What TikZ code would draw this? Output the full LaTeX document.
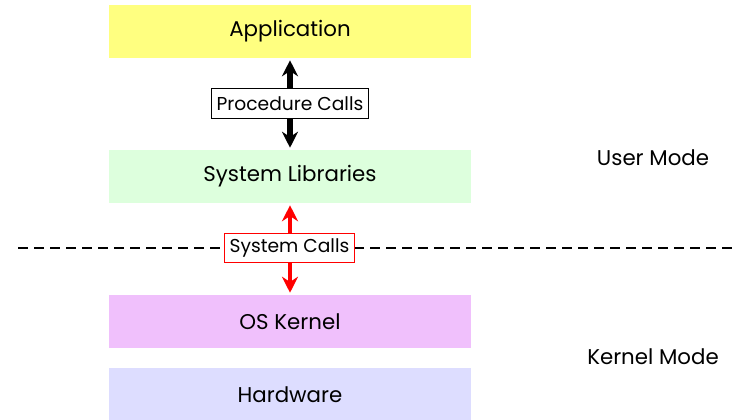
\documentclass[tikz,border=0pt]{standalone}
\usepackage{fontspec}
\setmainfont{Poppins}
\usetikzlibrary{arrows.meta}
\definecolor{appY}{HTML}{FFFF80}
\definecolor{libG}{HTML}{DDFFDD}
\definecolor{kerP}{HTML}{F0C0FC}
\definecolor{hwB}{HTML}{DDDDFF}
\begin{document}
\begin{tikzpicture}[x=0.75pt,y=-0.75pt,
  layer/.style={minimum width=271.5pt,minimum height=39.75pt,inner sep=0pt,font=\fontsize{16}{18}\selectfont},
  lbl/.style={draw,line width=0.8pt,fill=white,inner xsep=4pt,inner ysep=0pt,minimum height=22pt,font=\fontsize{14}{16}\selectfont},
  modetxt/.style={font=\fontsize{16}{18}\selectfont},
  bigarrow/.style={line width=4.2pt,{Stealth[length=12pt,width=12pt]}-{Stealth[length=12pt,width=12pt]}}]
\useasboundingbox (0,0) rectangle (738,419);
\node[layer,fill=appY] (app) at (290,31.5) {Application};
\node[layer,fill=libG] (lib) at (290,176.5) {System Libraries};
\node[layer,fill=kerP] (ker) at (290,321.5) {OS Kernel};
\node[layer,fill=hwB] (hw) at (290,394.5) {Hardware};
\coordinate (dl) at (18,248);
\coordinate (dr) at (738,248);
\draw[line width=1.5pt,dash pattern=on 7.5pt off 4.5pt] (dl) -- (dr);
\draw[bigarrow,black] ([yshift=-1.5pt]app.south) -- ([yshift=1.5pt]lib.north);
\draw[bigarrow,red,line width=3.6pt] ([yshift=-1.5pt]lib.south) -- ([yshift=1.5pt]ker.north);
\node[lbl] (pc) at (290,103.5) {Procedure Calls};
\node[lbl,draw=red] (sc) at (289.5,248) {System Calls};
\node[modetxt] (um) at (653,158) {User Mode};
\node[modetxt] (km) at (653,357) {Kernel Mode};
\end{tikzpicture}
\end{document}
